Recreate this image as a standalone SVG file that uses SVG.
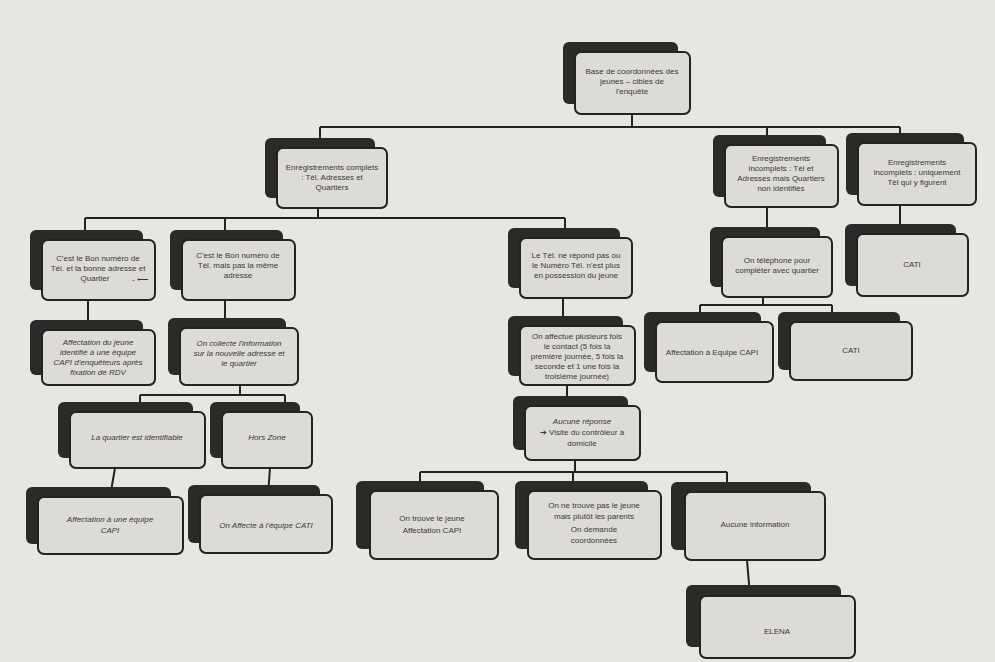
<svg xmlns="http://www.w3.org/2000/svg" width="995" height="662" viewBox="0 0 995 662">
<style>
.bg{fill:#e8e6e2}
.back{fill:#2b2a29}
.front{fill:#dddbd7;stroke:#242322;stroke-width:2}
.c{stroke:#242322;stroke-width:2;fill:none}
text{font-family:"Liberation Sans",Arial,sans-serif;font-size:8px;fill:#3a3836;text-anchor:middle}
.i{font-style:italic}
</style>
<rect class="bg" x="0" y="0" width="995" height="662"/>
<g id="connectors">
<path class="c" d="M632 114V127M320 127H900M320 127V148M767 127V145M900 127V143"/>
<path class="c" d="M318 208V218M85 218H565M85 218V240M225 218V240M565 218V238"/>
<path class="c" d="M767 207V237M900 205V234"/>
<path class="c" d="M88 300V330M225 300V328M563 298V326"/>
<path class="c" d="M763 297V305M700 305H832M700 305V322M832 305V322"/>
<path class="c" d="M240 385V395M140 395H285M140 395V412M285 395V412"/>
<path class="c" d="M115 468L110 497M270 468L268 495"/>
<path class="c" d="M567 385V406M575 460V472M420 472H727M420 472V491M573 472V491M727 472V492"/>
<path class="c" d="M747 560L750 596"/>
</g>
<g id="root"><rect class="back" x="563" y="42" width="115" height="62" rx="6"/><rect class="front" x="575" y="52" width="115" height="62" rx="6"/>
<text x="632" y="74">Base de coordonnées des</text><text x="632" y="84">jeunes – cibles de</text><text x="632" y="94">l'enquête</text></g>
<g id="n1"><rect class="back" x="265" y="138" width="110" height="60" rx="6"/><rect class="front" x="277" y="148" width="110" height="60" rx="6"/>
<text x="332" y="170">Enregistrements complets</text><text x="332" y="180">: Tél. Adresses et</text><text x="332" y="190">Quartiers</text></g>
<g id="n2"><rect class="back" x="713" y="135" width="113" height="62" rx="6"/><rect class="front" x="725" y="145" width="113" height="62" rx="6"/>
<text x="781" y="161">Enregistrements</text><text x="781" y="171">incomplets : Tél et</text><text x="781" y="181">Adresses mais Quartiers</text><text x="781" y="191">non identifiés</text></g>
<g id="n3"><rect class="back" x="846" y="133" width="118" height="62" rx="6"/><rect class="front" x="858" y="143" width="118" height="62" rx="6"/>
<text x="917" y="165">Enregistrements</text><text x="917" y="175">incomplets : uniquement</text><text x="917" y="185">Tél qui y figurent</text></g>
<g id="n4"><rect class="back" x="30" y="230" width="113" height="60" rx="6"/><rect class="front" x="42" y="240" width="113" height="60" rx="6"/>
<text x="98" y="261">C'est le Bon numéro de</text><text x="98" y="271">Tél. et la bonne adresse et</text><text x="95" y="281">Quartier</text><text x="140" y="282">- ⟵</text></g>
<g id="n5"><rect class="back" x="170" y="230" width="113" height="60" rx="6"/><rect class="front" x="182" y="240" width="113" height="60" rx="6"/>
<text x="238" y="258">C'est le Bon numéro de</text><text x="238" y="268">Tél. mais pas la même</text><text x="238" y="278">adresse</text></g>
<g id="n6"><rect class="back" x="508" y="228" width="112" height="60" rx="6"/><rect class="front" x="520" y="238" width="112" height="60" rx="6"/>
<text x="576" y="258">Le Tél. ne répond pas ou</text><text x="576" y="268">le Numéro Tél. n'est plus</text><text x="576" y="278">en possession du jeune</text></g>
<g id="n7"><rect class="back" x="710" y="227" width="110" height="60" rx="6"/><rect class="front" x="722" y="237" width="110" height="60" rx="6"/>
<text x="777" y="263">On téléphone pour</text><text x="777" y="273">compléter avec quartier</text></g>
<g id="n8"><rect class="back" x="845" y="224" width="111" height="62" rx="6"/><rect class="front" x="857" y="234" width="111" height="62" rx="6"/>
<text x="912" y="267">CATI</text></g>
<g id="n9"><rect class="back" x="30" y="320" width="113" height="55" rx="6"/><rect class="front" x="42" y="330" width="113" height="55" rx="6"/>
<text x="98" y="345" class="i">Affectation du jeune</text><text x="98" y="355" class="i">identifié à une équipe</text><text x="98" y="365" class="i">CAPI d'enquêteurs après</text><text x="98" y="375" class="i">fixation de RDV</text></g>
<g id="n10"><rect class="back" x="168" y="318" width="118" height="57" rx="6"/><rect class="front" x="180" y="328" width="118" height="57" rx="6"/>
<text x="239" y="346" class="i">On collecte l'information</text><text x="239" y="356" class="i">sur la nouvelle adresse et</text><text x="239" y="366" class="i">le quartier</text></g>
<g id="n11"><rect class="back" x="508" y="316" width="115" height="60" rx="6"/><rect class="front" x="520" y="326" width="115" height="59" rx="6"/>
<text x="577" y="339">On affectue plusieurs fois</text><text x="577" y="349">le contact (5 fois la</text><text x="577" y="359">première journée, 5 fois la</text><text x="577" y="369">seconde et 1 une fois la</text><text x="577" y="379">troisième journée)</text></g>
<g id="n12"><rect class="back" x="644" y="312" width="117" height="60" rx="6"/><rect class="front" x="656" y="322" width="117" height="60" rx="6"/>
<text x="712" y="355">Affectation à Equipe CAPI</text></g>
<g id="n13"><rect class="back" x="778" y="312" width="122" height="58" rx="6"/><rect class="front" x="790" y="322" width="122" height="58" rx="6"/>
<text x="851" y="353">CATI</text></g>
<g id="n14"><rect class="back" x="58" y="402" width="135" height="56" rx="6"/><rect class="front" x="70" y="412" width="135" height="56" rx="6"/>
<text x="137" y="440" class="i">La quartier est identifiable</text></g>
<g id="n15"><rect class="back" x="210" y="402" width="90" height="56" rx="6"/><rect class="front" x="222" y="412" width="90" height="56" rx="6"/>
<text x="267" y="440" class="i">Hors Zone</text></g>
<g id="n16"><rect class="back" x="26" y="487" width="145" height="57" rx="6"/><rect class="front" x="38" y="497" width="145" height="57" rx="6"/>
<text x="110" y="522" class="i">Affectation à une équipe</text><text x="110" y="533" class="i">CAPI</text></g>
<g id="n17"><rect class="back" x="188" y="485" width="132" height="58" rx="6"/><rect class="front" x="200" y="495" width="132" height="58" rx="6"/>
<text x="266" y="528" class="i">On Affecte à l'équipe CATI</text></g>
<g id="n18"><rect class="back" x="513" y="396" width="115" height="54" rx="6"/><rect class="front" x="525" y="406" width="115" height="54" rx="6"/>
<text x="582" y="424" class="i">Aucune réponse</text><text x="582" y="435">➔ Visite du contrôleur à</text><text x="582" y="446">domicile</text></g>
<g id="n19"><rect class="back" x="356" y="481" width="128" height="68" rx="6"/><rect class="front" x="370" y="491" width="128" height="68" rx="6"/>
<text x="432" y="521">On trouve le jeune</text><text x="432" y="533">Affectation CAPI</text></g>
<g id="n20"><rect class="back" x="515" y="481" width="133" height="68" rx="6"/><rect class="front" x="528" y="491" width="133" height="68" rx="6"/>
<text x="594" y="508">On ne trouve pas le jeune</text><text x="594" y="519">mais plutôt les parents</text><text x="594" y="532">On demande</text><text x="594" y="543">coordonnées</text></g>
<g id="n21"><rect class="back" x="671" y="482" width="140" height="68" rx="6"/><rect class="front" x="685" y="492" width="140" height="68" rx="6"/>
<text x="755" y="527">Aucune information</text></g>
<g id="n22"><rect class="back" x="686" y="585" width="155" height="62" rx="6"/><rect class="front" x="700" y="596" width="155" height="62" rx="6"/>
<text x="777" y="634">ELENA</text></g>
</svg>
